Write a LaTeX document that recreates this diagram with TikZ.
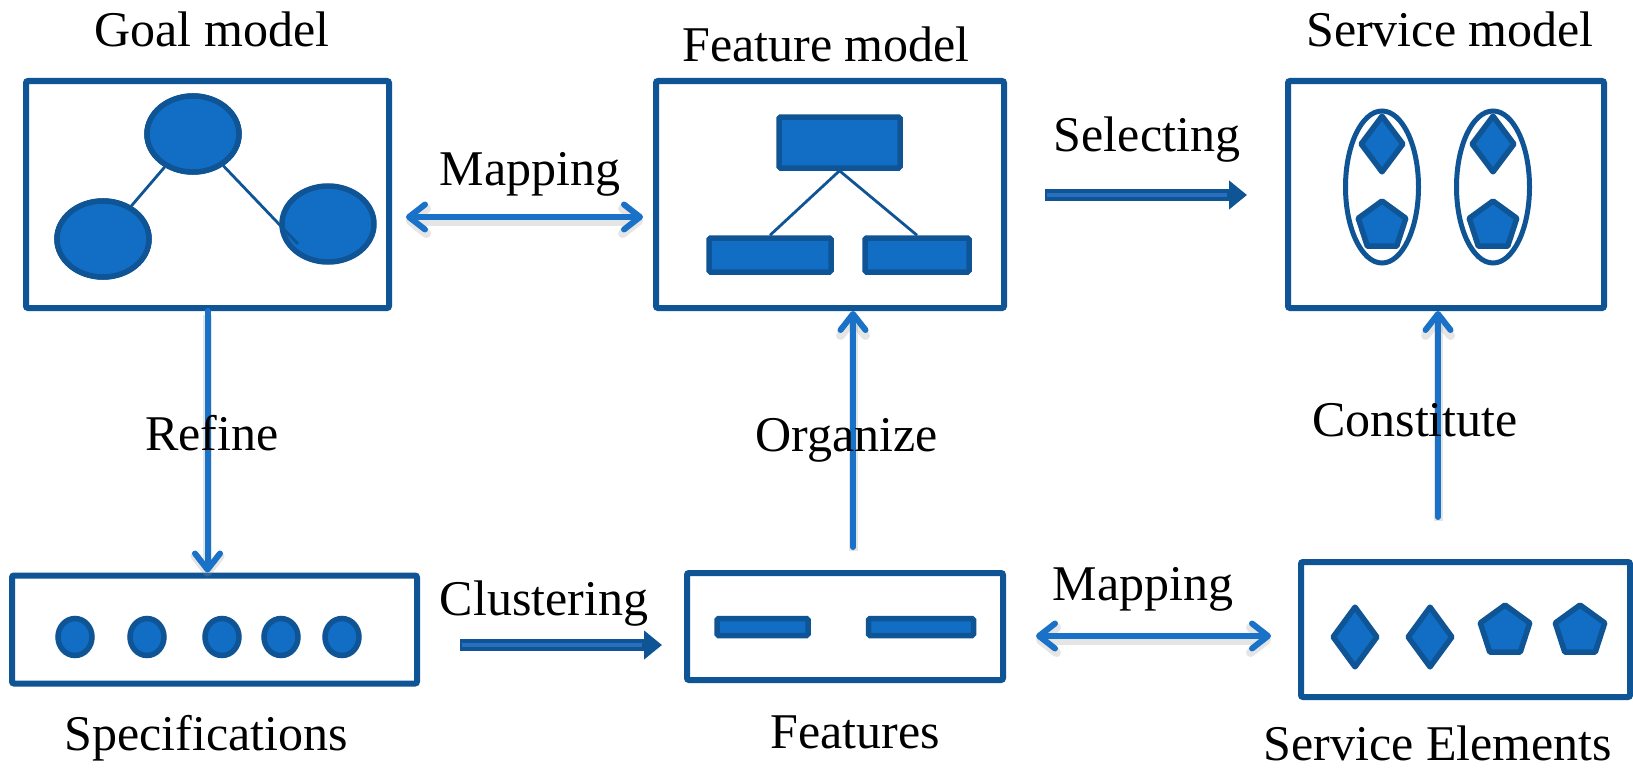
\documentclass[tikz,border=0pt]{standalone}
\usepackage{fontspec}
\setmainfont{Liberation Serif}
\usetikzlibrary{arrows.meta,shapes.geometric,calc}
\definecolor{boxblue}{HTML}{0F5596}
\definecolor{fillblue}{HTML}{116EC4}
\definecolor{arrowblue}{HTML}{1A72C8}
\definecolor{innerblue}{HTML}{2A6FBE}
\begin{document}
\begin{tikzpicture}[x=1pt,y=-1pt,
  frame/.style={rectangle, draw=boxblue, line width=6pt, rounded corners=2pt, inner sep=0pt},
  ell/.style={ellipse, draw=boxblue, fill=fillblue, line width=5.5pt, inner sep=0pt},
  rbox/.style={rectangle, draw=boxblue, fill=fillblue, line width=5.5pt, inner sep=0pt, rounded corners=1.5pt},
  dia/.style={diamond, draw=boxblue, fill=fillblue, line width=5.5pt, inner sep=0pt, line join=round},
  penta/.style={regular polygon, regular polygon sides=5, draw=boxblue, fill=fillblue, line width=5.5pt, inner sep=0pt, line join=round},
  oval/.style={ellipse, draw=boxblue, line width=5pt, inner sep=0pt},
  link/.style={draw=boxblue, line width=2.8pt},
  shadow/.style={preaction={draw=black!40, opacity=0.25, line width=9pt, transform canvas={yshift=-4pt}}},
  conn/.style={draw=arrowblue, line width=6pt, line cap=round, shadow,
    -{Straight Barb[length=16pt,width=25pt,line cap=round,line join=round]}},
  biconn/.style={draw=arrowblue, line width=6pt, line cap=round, shadow,
    {Straight Barb[length=16pt,width=25pt,line cap=round,line join=round]}-{Straight Barb[length=16pt,width=25pt,line cap=round,line join=round]}},
  block/.style={draw=boxblue, line width=12pt, -{Triangle[length=18pt,width=28pt]}},
  blockcore/.style={draw=innerblue, line width=3.5pt},
  lbl/.style={anchor=base, inner sep=0pt, font=\fontsize{50}{60}\selectfont}
]
\useasboundingbox[fill=white] (0,0) rectangle (1633,768);

% ---------- frames ----------
\node[frame, minimum width=363pt, minimum height=227pt] (goal) at (207.5,194.5) {};
\node[frame, minimum width=348pt, minimum height=227pt] (feat) at (830,194.5) {};
\node[frame, minimum width=316pt, minimum height=227pt] (serv) at (1446,194.5) {};
\node[frame, minimum width=405pt, minimum height=108pt] (spec) at (214.5,629.5) {};
\node[frame, minimum width=316pt, minimum height=107pt] (fts) at (845,626.5) {};
\node[frame, minimum width=329pt, minimum height=135pt] (sel) at (1465.5,629.5) {};

% ---------- goal model ----------
\node[ell, minimum width=92pt, minimum height=76pt] (g1) at (193,134) {};
\node[ell, minimum width=92pt, minimum height=76pt] (g2) at (103,239) {};
\node[ell, minimum width=92pt, minimum height=76pt] (g3) at (328,224) {};
\draw[link] (g1) -- (g2);
\draw[link] (g1) -- ($(g3.center)+(-30,20)$);
\node[ell, minimum width=92pt, minimum height=76pt] at (g2) {};
\node[ell, minimum width=92pt, minimum height=76pt] at (g1) {};

% ---------- feature model ----------
\node[rbox, minimum width=121pt, minimum height=51pt] (f1) at (839.5,142.5) {};
\node[rbox, minimum width=122pt, minimum height=34pt] (f2) at (770,255) {};
\node[rbox, minimum width=104pt, minimum height=34pt] (f3) at (917,255) {};
\draw[link] (f1.south) -- (f2.north);
\draw[link] (f1.south) -- (f3.north);

% ---------- service model ----------
\node[oval, minimum width=73pt, minimum height=152pt] (o1) at (1382,187) {};
\node[oval, minimum width=73pt, minimum height=152pt] (o2) at (1493,187) {};
\node[dia, minimum width=44pt, minimum height=58pt] (d1) at (1382,144) {};
\node[dia, minimum width=44pt, minimum height=58pt] (d2) at (1493,144) {};
\node[penta, minimum size=50pt] (p1) at (1382,226) {};
\node[penta, minimum size=50pt] (p2) at (1493,226) {};

% ---------- specifications ----------
\foreach \i/\x in {1/75,2/147,3/222,4/281,5/342}
  \node[ell, minimum width=34pt, minimum height=37pt] (s\i) at (\x,637) {};

% ---------- features ----------
\node[rbox, minimum width=91pt, minimum height=17pt] (r1) at (762.5,627) {};
\node[rbox, minimum width=105pt, minimum height=17pt] (r2) at (921,627) {};

% ---------- service elements ----------
\node[dia, minimum width=46pt, minimum height=62pt] (e1) at (1355,637) {};
\node[dia, minimum width=46pt, minimum height=62pt] (e2) at (1430,637) {};
\node[penta, minimum size=52pt] (e3) at (1505,631) {};
\node[penta, minimum size=52pt] (e4) at (1580,631) {};

% ---------- connectors ----------
\coordinate (m1a) at (406,217);
\coordinate (m1b) at (643,217);
\draw[biconn] (m1a) -- (m1b);

\coordinate (m2a) at (1036,636);
\coordinate (m2b) at (1271,636);
\draw[biconn] (m2a) -- (m2b);

\draw[conn] (goal.south) -- (goal.south |- spec.north);

\coordinate (orgS) at (853,547);
\draw[conn] (orgS) -- (orgS |- feat.south);

\coordinate (conS) at (1438,517);
\draw[conn] (conS) -- (conS |- serv.south);

\coordinate (selA) at (1045,195);
\coordinate (selB) at (1247,195);
\draw[block] (selA) -- (selB);
\draw[blockcore] ($(selA)+(2,0)$) -- ($(selB)+(-20,0)$);

\coordinate (cluA) at (460,645);
\coordinate (cluB) at (662,645);
\draw[block] (cluA) -- (cluB);
\draw[blockcore] ($(cluA)+(2,0)$) -- ($(cluB)+(-20,0)$);

% ---------- labels ----------
\node[lbl] (tGoal) at (212,47) {Goal model};
\node[lbl] (tFeat) at (826,62) {Feature model};
\node[lbl] (tServ) at (1450,47) {Service model};
\node[lbl] (tMap1) at (530,185) {Mapping};
\node[lbl] (tSel) at (1147,151) {Selecting};
\node[lbl] (tRef) at (212,450) {Refine};
\node[lbl] (tOrg) at (847,451) {Organize};
\node[lbl] (tCon) at (1415,436) {Constitute};
\node[lbl] (tClu) at (544,615) {Clustering};
\node[lbl] (tMap2) at (1143,600) {Mapping};
\node[lbl] (tSpec) at (206,750) {Specifications};
\node[lbl] (tFts) at (855,748) {Features};
\node[lbl] (tSE) at (1438,760) {Service Elements};
\end{tikzpicture}
\end{document}
